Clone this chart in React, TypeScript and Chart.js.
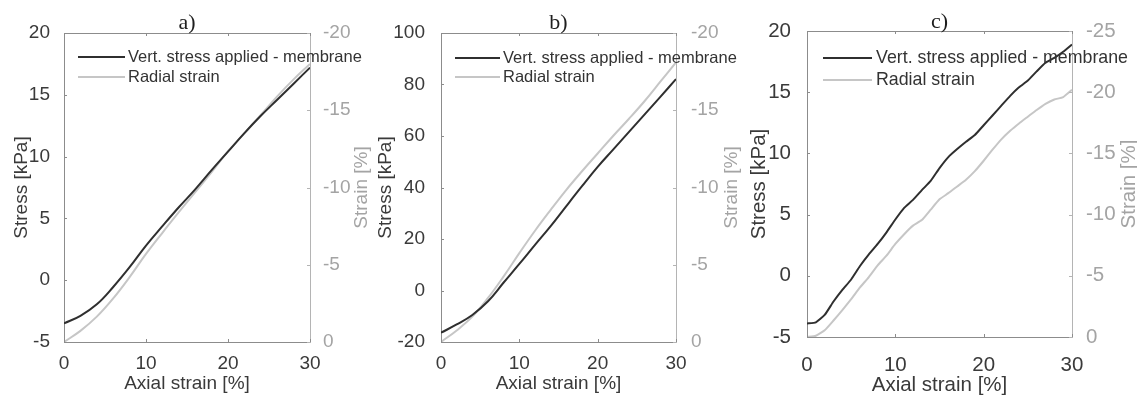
import React, { useEffect, useRef } from "react";
import { Chart, registerables } from "chart.js";
Chart.register(...registerables);

// ---------- data ----------
const AXIAL_AB = [0, 2, 4, 6, 8, 10, 12, 14, 16, 18, 20, 22, 24, 26, 28, 30];
const STRESS_A = [-3.5, -2.88, -1.95, -0.55, 1.05, 2.8, 4.37, 5.9, 7.35, 8.9, 10.4, 11.9, 13.3, 14.6, 15.9, 17.2];
const RADIAL_A = [0, -0.72, -1.64, -2.82, -4.2, -5.7, -7.07, -8.4, -9.7, -11.0, -12.35, -13.5, -14.7, -15.9, -17.0, -18.0];
const STRESS_B = [-16.4, -13.2, -9.5, -4.2, 3.1, 10.3, 17.7, 25.0, 32.8, 40.5, 48.0, 54.8, 61.6, 68.4, 75.2, 82.1];
const RADIAL_B = [0, -0.75, -1.64, -2.85, -4.25, -5.75, -7.2, -8.55, -9.85, -11.05, -12.2, -13.35, -14.45, -15.6, -16.85, -18.1];

const AXIAL_C = [0, 1, 2, 3, 4, 5, 6, 7, 8, 9, 10, 11, 12, 13, 14, 15, 16, 17, 18, 19, 20, 21, 22, 23, 24, 25, 26, 27, 28, 29, 30];
const STRESS_C = [-3.9, -3.8, -3.2, -2.1, -1.15, -0.3, 0.8, 1.75, 2.6, 3.55, 4.6, 5.55, 6.2, 7.0, 7.75, 8.8, 9.7, 10.35, 10.95, 11.5, 12.3, 13.1, 13.9, 14.7, 15.4, 15.95, 16.7, 17.4, 17.8, 18.3, 18.9];
const RADIAL_C = [0, -0.1, -0.55, -1.35, -2.2, -3.1, -4.05, -4.9, -5.85, -6.65, -7.6, -8.4, -9.1, -9.55, -10.4, -11.25, -11.75, -12.3, -12.85, -13.55, -14.4, -15.3, -16.15, -16.85, -17.45, -18.0, -18.55, -19.05, -19.4, -19.6, -20.2];

const X_TICKS = [0, 10, 20, 30];
const STRESS_TICKS_A = [-5, 0, 5, 10, 15, 20];
const STRESS_TICKS_B = [-20, 0, 20, 40, 60, 80, 100];
const STRESS_TICKS_C = [-5, 0, 5, 10, 15, 20];
const STRAIN_TICKS_AB = [0, -5, -10, -15, -20];
const STRAIN_TICKS_C = [0, -5, -10, -15, -20, -25];

const PANEL_TITLES = ["a)", "b)", "c)"];
const SERIES_LABELS = ["Vert. stress applied - membrane", "Radial strain"];
const X_TITLE = "Axial strain [%]";
const Y_TITLE = "Stress [kPa]";
const Y1_TITLE = "Strain [%]";

// ---------- styles ----------
const DARK = "#2f2f2f";
const LIGHT = "#c6c6c6";
const AXIS_DARK = "#8c8c8c";
const AXIS_LIGHT = "#b4b4b4";
const TEXT_DARK = "#3a3a3a";
const TEXT_LIGHT = "#a4a4a4";
const SANS = '"Liberation Sans", Arial, sans-serif';
const SERIF = '"Liberation Serif", "Times New Roman", serif';

type PanelCfg = {
  title: string;
  xs: number[];
  stress: number[];
  radial: number[];
  stressTicks: number[];
  strainTicks: number[];
  left: number;
  width: number;
  leftW: number;
  rightW: number;
  top: number;
  bottom: number;
  font: number;
  titleFont: number;
  legendFont: number;
  smooth: boolean;
  yTitlePad: number;
  y1TitleX: number;
  xTitlePad: number;
  xTickPad: number;
  yTickPad: number;
  y1TickPad: number;
  legend: { lx0: number; lx1: number; tx: number; r1: number; r2: number };
  titleY: number;
};

const H = 395;

const PANELS: PanelCfg[] = [
  {
    title: PANEL_TITLES[0], xs: AXIAL_AB, stress: STRESS_A, radial: RADIAL_A,
    stressTicks: STRESS_TICKS_A, strainTicks: STRAIN_TICKS_AB,
    left: 0, width: 375, leftW: 64, rightW: 65, top: 33, bottom: 342,
    font: 19, titleFont: 22, legendFont: 16.5, smooth: true,
    yTitlePad: 12.5, y1TitleX: 362, xTitlePad: 1.5, xTickPad: 2.5, yTickPad: 6, y1TickPad: 5,
    legend: { lx0: 78, lx1: 125, tx: 128, r1: 57, r2: 77 }, titleY: 23,
  },
  {
    title: PANEL_TITLES[1], xs: AXIAL_AB, stress: STRESS_B, radial: RADIAL_B,
    stressTicks: STRESS_TICKS_B, strainTicks: STRAIN_TICKS_AB,
    left: 375, width: 370, leftW: 66, rightW: 69, top: 33, bottom: 342,
    font: 19, titleFont: 22, legendFont: 16.5, smooth: true,
    yTitlePad: 1, y1TitleX: 357, xTitlePad: 1.5, xTickPad: 2.5, yTickPad: 8, y1TickPad: 7,
    legend: { lx0: 80, lx1: 125, tx: 128, r1: 58, r2: 77 }, titleY: 23,
  },
  {
    title: PANEL_TITLES[2], xs: AXIAL_C, stress: STRESS_C, radial: RADIAL_C,
    stressTicks: STRESS_TICKS_C, strainTicks: STRAIN_TICKS_C,
    left: 745, width: 392, leftW: 62, rightW: 65, top: 31, bottom: 337,
    font: 20.5, titleFont: 22, legendFont: 17.8, smooth: false,
    yTitlePad: 4.5, y1TitleX: 384, xTitlePad: -0.5, xTickPad: 8, yTickPad: 8, y1TickPad: 6,
    legend: { lx0: 78, lx1: 127, tx: 131, r1: 58, r2: 80 }, titleY: 22,
  },
];

function decorPlugin(p: PanelCfg) {
  return {
    id: "decor",
    afterDraw(chart: any) {
      const { ctx, chartArea: ca, scales } = chart;
      ctx.save();
      const line = (x0: number, y0: number, x1: number, y1: number, c: string, w = 1) => {
        ctx.strokeStyle = c;
        ctx.lineWidth = w;
        ctx.beginPath();
        ctx.moveTo(x0, y0);
        ctx.lineTo(x1, y1);
        ctx.stroke();
      };
      // top box line
      line(ca.left, ca.top + 0.5, ca.right, ca.top + 0.5, AXIS_DARK);
      const TL = 3;
      scales.x.ticks.forEach((t: any) => {
        const px = Math.round(scales.x.getPixelForValue(t.value)) + 0.5;
        line(px, ca.bottom, px, ca.bottom - TL, AXIS_DARK);
        line(px, ca.top, px, ca.top + TL, AXIS_DARK);
      });
      scales.y.ticks.forEach((t: any) => {
        const py = Math.round(scales.y.getPixelForValue(t.value)) + 0.5;
        line(ca.left, py, ca.left + TL, py, AXIS_DARK);
      });
      scales.y1.ticks.forEach((t: any) => {
        const py = Math.round(scales.y1.getPixelForValue(t.value)) + 0.5;
        line(ca.right, py, ca.right - TL, py, AXIS_LIGHT);
      });
      // right axis title (reads bottom-to-top)
      ctx.save();
      ctx.translate(p.y1TitleX, (ca.top + ca.bottom) / 2);
      ctx.rotate(-Math.PI / 2);
      ctx.font = `${p.font}px ${SANS}`;
      ctx.fillStyle = TEXT_LIGHT;
      ctx.textAlign = "center";
      ctx.textBaseline = "middle";
      ctx.fillText(Y1_TITLE, 0, 0);
      ctx.restore();
      // panel title
      ctx.font = `${p.titleFont}px ${SERIF}`;
      ctx.fillStyle = "#1e1e1e";
      ctx.textAlign = "center";
      ctx.textBaseline = "middle";
      ctx.fillText(p.title, (ca.left + ca.right) / 2, p.titleY);
      // legend
      const L = p.legend;
      line(L.lx0, L.r1, L.lx1, L.r1, DARK, 2);
      line(L.lx0, L.r2, L.lx1, L.r2, LIGHT, 2);
      ctx.font = `${p.legendFont}px ${SANS}`;
      ctx.fillStyle = "#333333";
      ctx.textAlign = "left";
      ctx.textBaseline = "middle";
      ctx.fillText(SERIES_LABELS[0], L.tx, L.r1 + 0.5);
      ctx.fillText(SERIES_LABELS[1], L.tx, L.r2 + 0.5);
      ctx.restore();
    },
  };
}

function Panel({ p }: { p: PanelCfg }) {
  const ref = useRef<HTMLCanvasElement | null>(null);
  useEffect(() => {
    if (!ref.current) return;
    const tickFont = { family: SANS, size: p.font };
    const titleFont = { family: SANS, size: p.font, lineHeight: 1 };
    const chart = new Chart(ref.current, {
      type: "line",
      data: {
        datasets: [
          {
            label: SERIES_LABELS[0],
            data: p.xs.map((x, i) => ({ x, y: p.stress[i] })),
            yAxisID: "y",
            borderColor: DARK,
            borderWidth: 2,
            pointRadius: 0,
            tension: p.smooth ? 0.4 : 0.15,
          },
          {
            label: SERIES_LABELS[1],
            data: p.xs.map((x, i) => ({ x, y: p.radial[i] })),
            yAxisID: "y1",
            borderColor: LIGHT,
            borderWidth: 2,
            pointRadius: 0,
            tension: p.smooth ? 0.4 : 0.15,
          },
        ],
      },
      options: {
        animation: false,
        responsive: false,
        devicePixelRatio: 1,
        layout: { padding: { top: p.top, left: 0, right: 0, bottom: 0 } },
        plugins: { legend: { display: false }, tooltip: { enabled: false }, title: { display: false } },
        scales: {
          x: {
            type: "linear",
            position: "bottom",
            min: 0,
            max: 30,
            afterBuildTicks: (s: any) => { s.ticks = X_TICKS.map((v) => ({ value: v })); },
            afterFit: (s: any) => { s.height = H - p.bottom; },
            grid: { display: false },
            border: { display: true, color: AXIS_DARK, width: 1 },
            ticks: { color: TEXT_DARK, font: tickFont, padding: p.xTickPad, maxRotation: 0, callback: (v: any) => String(v) },
            title: { display: true, text: X_TITLE, color: TEXT_DARK, font: titleFont, padding: { top: 0, bottom: p.xTitlePad } },
          },
          y: {
            type: "linear",
            position: "left",
            min: p.stressTicks[0],
            max: p.stressTicks[p.stressTicks.length - 1],
            afterBuildTicks: (s: any) => { s.ticks = p.stressTicks.map((v) => ({ value: v })); },
            afterFit: (s: any) => { s.width = p.leftW; },
            grid: { display: false },
            border: { display: true, color: AXIS_DARK, width: 1 },
            ticks: { color: TEXT_DARK, font: tickFont, padding: p.yTickPad, callback: (v: any) => String(v) },
            title: { display: true, text: Y_TITLE, color: TEXT_DARK, font: titleFont, padding: { top: p.yTitlePad, bottom: 0 } },
          },
          y1: {
            type: "linear",
            position: "right",
            reverse: true,
            min: p.strainTicks[p.strainTicks.length - 1],
            max: 0,
            afterBuildTicks: (s: any) => { s.ticks = p.strainTicks.map((v) => ({ value: v })); },
            afterFit: (s: any) => { s.width = p.rightW; },
            grid: { display: false },
            border: { display: true, color: AXIS_LIGHT, width: 1 },
            ticks: { color: TEXT_LIGHT, font: tickFont, padding: p.y1TickPad, callback: (v: any) => String(v) },
            title: { display: false },
          },
        },
      } as any,
      plugins: [decorPlugin(p)],
    });
    return () => chart.destroy();
  }, [p]);
  return (
    <canvas
      ref={ref}
      width={p.width}
      height={H}
      style={{ position: "absolute", left: p.left, top: 0, width: p.width, height: H }}
    />
  );
}

export default function App() {
  return (
    <div style={{ position: "absolute", left: 0, top: 0, width: 1137, height: H, background: "#ffffff", overflow: "hidden" }}>
      {PANELS.map((p, i) => (
        <Panel key={i} p={p} />
      ))}
    </div>
  );
}
